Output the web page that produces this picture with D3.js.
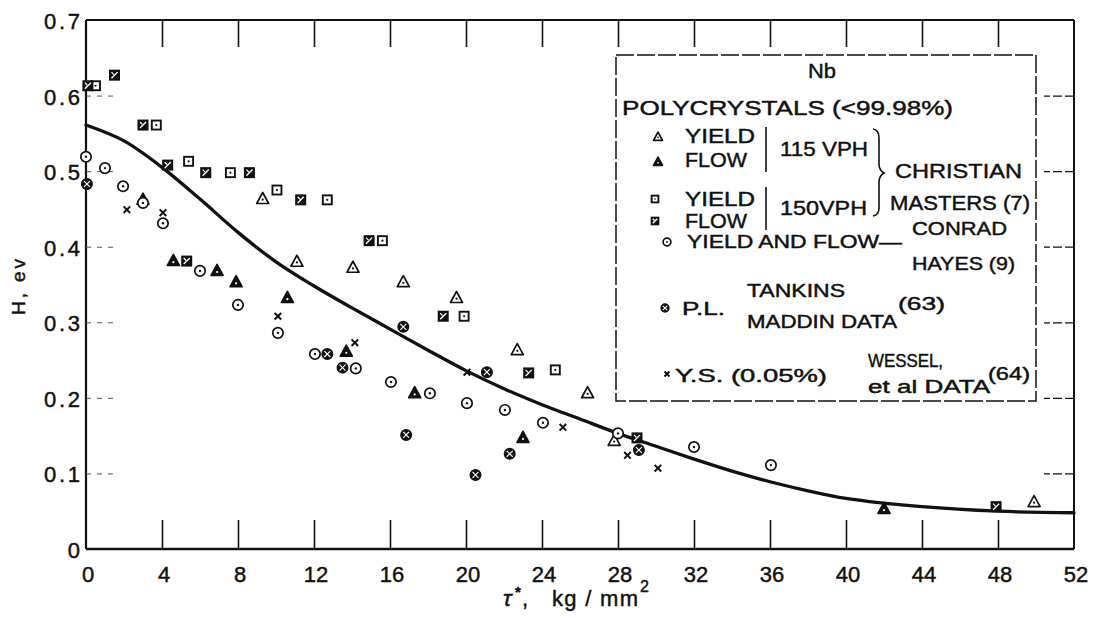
<!DOCTYPE html>
<html><head><meta charset="utf-8">
<script src="https://cdn.jsdelivr.net/npm/d3@7"></script>
<style>
html,body{margin:0;padding:0;background:#fff;}
svg text{font-family:"Liberation Sans",Arial,sans-serif;fill:#111;stroke:#111;stroke-width:0.45px;}
</style></head>
<body><svg id="c" width="1095" height="618"></svg>
<script>
// ---- data ----
const xTicks = [0,4,8,12,16,20,24,28,32,36,40,44,48,52];
const yTicks = [0,0.1,0.2,0.3,0.4,0.5,0.6,0.7];
const yTickLabels = ["0","0.1","0.2","0.3","0.4","0.5","0.6","0.7"];

const yield115 = [[9.3,0.463],[11.1,0.380],[14.05,0.372],[16.7,0.353],[19.5,0.332],[22.7,0.263],[26.4,0.206],[27.8,0.143],[49.9,0.062]];
const flow115 = [[3.0,0.462],[4.6,0.381],[6.9,0.368],[7.9,0.353],[10.6,0.332],[13.7,0.261],[17.3,0.206],[23.0,0.147],[42.0,0.053]];
const yield150 = [[0.5,0.613],[3.7,0.561],[5.4,0.513],[7.6,0.498],[10.05,0.475],[12.7,0.462],[15.6,0.408],[19.9,0.308],[24.7,0.237]];
const flow150 = [[0.1,0.613],[1.5,0.627],[3.0,0.561],[4.3,0.508],[6.3,0.498],[8.6,0.498],[11.3,0.462],[5.3,0.381],[14.9,0.408],[18.8,0.308],[23.3,0.233],[29.0,0.147],[47.9,0.056]];
const conradHayes = [[0,0.519],[1.0,0.504],[1.95,0.480],[3.0,0.458],[4.05,0.431],[6.0,0.368],[8.0,0.323],[10.1,0.286],[12.05,0.258],[14.2,0.239],[16.05,0.221],[18.1,0.206],[20.05,0.193],[22.05,0.184],[24.05,0.167],[28.0,0.153],[32.0,0.135],[36.05,0.111]];
const tankinsMaddin = [[0.05,0.483],[12.7,0.258],[13.5,0.240],[16.7,0.294],[16.85,0.151],[20.5,0.098],[21.1,0.234],[22.3,0.126],[29.1,0.131]];
const wessel = [[2.15,0.449],[4.05,0.445],[10.1,0.308],[14.15,0.273],[20.05,0.234],[25.1,0.161],[28.5,0.124],[30.1,0.107]];

const curveX = [0,2,4,6,8,10,12,14,16,18,20,22,24,26,28,30,32,34,36,38,40,44,48,52];
const curveY = [0.561,0.540,0.505,0.463,0.419,0.380,0.348,0.319,0.291,0.263,0.236,0.212,0.191,0.172,0.153,0.136,0.119,0.103,0.089,0.077,0.067,0.056,0.050,0.048];

// ---- layout ----
const svg = d3.select("#c");
const X0 = 86, X1 = 1074, Y0 = 549, Y1 = 20;
const x = d3.scaleLinear().domain([0,52]).range([X0,X1]);
const y = d3.scaleLinear().domain([0,0.7]).range([Y0,Y1]);
const ink = "#111";

// frame
const g = svg.append("g");
g.append("line").attr("x1",X0).attr("x2",X0).attr("y1",Y1).attr("y2",Y0).attr("stroke",ink).attr("stroke-width",2.2);
g.append("line").attr("x1",X0).attr("x2",X1).attr("y1",Y0).attr("y2",Y0).attr("stroke",ink).attr("stroke-width",2.6);
g.append("line").attr("x1",X0).attr("x2",X1).attr("y1",Y1).attr("y2",Y1).attr("stroke",ink).attr("stroke-width",1.8);
g.append("line").attr("x1",X1).attr("x2",X1).attr("y1",Y1).attr("y2",Y0).attr("stroke",ink).attr("stroke-width",2);

// inner ticks via d3 axes
const axB = d3.axisTop(x).tickValues(xTicks.slice(1,-1)).tickSize(29).tickFormat("");
const gb = svg.append("g").attr("transform",`translate(0,${Y0})`).call(axB);
gb.select(".domain").remove();
gb.selectAll(".tick line").attr("stroke",ink).attr("stroke-width",1.6);

const axT = d3.axisBottom(x).tickValues(xTicks.slice(1,-1)).tickSize(27).tickFormat("");
const gt = svg.append("g").attr("transform",`translate(0,${Y1})`).call(axT);
gt.select(".domain").remove();
gt.selectAll(".tick line").attr("stroke",ink).attr("stroke-width",1.6);

const axR = d3.axisLeft(y).tickValues(yTicks.slice(1,-1)).tickSize(30).tickFormat("");
const gr = svg.append("g").attr("transform",`translate(${X1},0)`).call(axR);
gr.select(".domain").remove();
gr.selectAll(".tick line").attr("stroke",ink).attr("stroke-width",1.3).attr("stroke-dasharray","9,3");

const axL = d3.axisRight(y).tickValues(yTicks.slice(1,-1)).tickSize(28).tickFormat("");
const gl = svg.append("g").attr("transform",`translate(${X0},0)`).call(axL);
gl.select(".domain").remove();
gl.selectAll(".tick line").attr("stroke","#555").attr("stroke-width",1).attr("stroke-dasharray","5,6");

// tick labels
svg.append("g").selectAll("text").data(xTicks).join("text")
  .attr("x",d=>x(d)+2).attr("y",582).attr("text-anchor","middle")
  .attr("font-size",22).text(d=>d);
svg.append("g").selectAll("text").data(yTicks).join("text")
  .attr("x",80).attr("y",d=>y(d)+9).attr("text-anchor","end")
  .attr("font-size",22)
  .each(function(d,i){ if(i>0){ d3.select(this).attr("textLength",36).attr("lengthAdjust","spacing"); } })
  .text((d,i)=>yTickLabels[i]);

// axis titles
svg.append("text").attr("transform","translate(25,287) rotate(-90)").attr("text-anchor","middle")
  .attr("font-size",19).attr("textLength",56).attr("lengthAdjust","spacing").text("H, ev");
const xt = svg.append("g");
xt.append("text").attr("x",503).attr("y",606).attr("font-size",23).attr("font-style","italic").text("τ");
xt.append("text").attr("x",515).attr("y",597).attr("font-size",15).attr("font-weight","bold").text("*");
xt.append("text").attr("x",522).attr("y",606).attr("font-size",22).text(",");
xt.append("text").attr("x",552).attr("y",606).attr("font-size",22).attr("textLength",86).attr("lengthAdjust","spacing").text("kg / mm");
xt.append("text").attr("x",640).attr("y",592).attr("font-size",16).text("2");

// curve
const curvePts = curveX.map((v,i)=>[v,curveY[i]]);
svg.append("path").datum(curvePts)
  .attr("d",d3.line().x(d=>x(d[0])).y(d=>y(d[1])).curve(d3.curveCatmullRom.alpha(0.5)))
  .attr("fill","none").attr("stroke",ink).attr("stroke-width",3.3).attr("stroke-linecap","round");

// marker drawing
function marker(sel, type, s){
  s = s||1;
  const sw = 1.7;
  if(type==="triOpen"||type==="triFill"){
    const h=11*s, w=12*s;
    sel.append("path").attr("d",`M0,${-h*0.6}L${w/2},${h*0.4}L${-w/2},${h*0.4}Z`)
      .attr("fill",type==="triFill"?ink:"#fff").attr("stroke",ink).attr("stroke-width",sw).attr("stroke-linejoin","round");
    if(type==="triOpen") sel.append("circle").attr("r",1.1*s).attr("cy",h*0.05).attr("fill",ink);
    else sel.append("circle").attr("r",1.1*s).attr("cy",h*0.1).attr("fill","#fff");
  } else if(type==="sqOpen"){
    const a=9*s;
    sel.append("rect").attr("x",-a/2).attr("y",-a/2).attr("width",a).attr("height",a)
      .attr("fill","#fff").attr("stroke",ink).attr("stroke-width",sw+0.2);
    sel.append("circle").attr("r",1.1*s).attr("fill",ink);
  } else if(type==="sqX"){
    const a=9.5*s;
    sel.append("rect").attr("x",-a/2).attr("y",-a/2).attr("width",a).attr("height",a)
      .attr("fill",ink).attr("stroke",ink).attr("stroke-width",1.5);
    const k=a*0.32;
    sel.append("path").attr("d",`M${-k},${k}L${k},${-k}`).attr("stroke","#fff").attr("stroke-width",1.4);
    sel.append("path").attr("d",`M${-k},${-k}L${-k*0.2},${-k*0.2}`).attr("stroke","#fff").attr("stroke-width",1.2);
  } else if(type==="circOpen"){
    sel.append("circle").attr("r",5.2*s).attr("fill","#fff").attr("stroke",ink).attr("stroke-width",sw);
    sel.append("circle").attr("r",1.2*s).attr("fill",ink);
  } else if(type==="circX"){
    const r=5.4*s;
    sel.append("circle").attr("r",r).attr("fill",ink).attr("stroke",ink).attr("stroke-width",1.2);
    const k=r*0.55;
    sel.append("path").attr("d",`M${-k},${-k}L${k},${k}M${k},${-k}L${-k},${k}`).attr("stroke","#fff").attr("stroke-width",1.1);
  } else if(type==="cross"){
    const k=3.3*s;
    sel.append("path").attr("d",`M${-k},${-k}L${k},${k}M${k},${-k}L${-k},${k}`).attr("stroke",ink).attr("stroke-width",2);
  }
}
const series = [
  {data:yield115,type:"triOpen"},
  {data:flow115,type:"triFill"},
  {data:yield150,type:"sqOpen"},
  {data:flow150,type:"sqX"},
  {data:conradHayes,type:"circOpen"},
  {data:tankinsMaddin,type:"circX"},
  {data:wessel,type:"cross"}
];
series.forEach(sr=>{
  svg.append("g").selectAll("g").data(sr.data).join("g")
    .attr("transform",d=>`translate(${x(d[0])},${y(d[1])})`)
    .each(function(){ marker(d3.select(this), sr.type, 1); });
});

// legend
const L = svg.append("g");
L.append("rect").attr("x",616).attr("y",55).attr("width",420).attr("height",346)
  .attr("fill","#fff").attr("stroke",ink).attr("stroke-width",1.5).attr("stroke-dasharray","18,3");
function T(str,x0,yb,len,fs,anchor){
  const t=L.append("text").attr("x",x0).attr("y",yb).attr("font-size",fs||22).text(str);
  if(anchor) t.attr("text-anchor",anchor);
  if(len) t.attr("textLength",len).attr("lengthAdjust","spacingAndGlyphs");
  return t;
}
T("Nb",822,78,28,21,"middle");
T("POLYCRYSTALS (<99.98%)",622,115,331,21);
T("YIELD",685,143,70,21);
T("FLOW",685,167,62,21);
T("115 VPH",780,156,88,21);
T("YIELD",685,206,70,21);
T("FLOW",685,228,62,21);
T("150VPH",780,215,87,21);
T("CHRISTIAN",895,178,127,21);
T("MASTERS (7)",890,210,140,21);
T("YIELD AND FLOW—",687,248,215,18);
T("CONRAD",912,235,95,18);
T("HAYES (9)",912,270,103,18);
T("P.L.",682,315,43,18);
T("TANKINS",747,297,98,18);
T("MADDIN DATA",747,328,150,18);
T("(63)",898,310,47,18);
T("Y.S. (0.05%)",675,382,152,18);
T("WESSEL,",868,367,75,18);
T("et al DATA",868,393,122,18);
T("(64)",988,380,42,18);

// brackets
L.append("path").attr("d","M766,127L766,172M766,187L766,230").attr("stroke",ink).attr("stroke-width",1.6).attr("fill","none");
L.append("path").attr("d","M873,129Q879,130 879,138L879,164Q879,170 884,173Q879,176 879,182L879,208Q879,215 873,216")
  .attr("stroke",ink).attr("stroke-width",1.6).attr("fill","none");

// legend markers
const lm = [[658,137,"triOpen"],[658,162,"triFill"],[655,199,"sqOpen"],[655,221,"sqX"],[667,242,"circOpen"],[665,308,"circX"],[667,374,"cross"]];
lm.forEach(m=>{ marker(L.append("g").attr("transform",`translate(${m[0]},${m[1]})`), m[2], 0.75); });
</script></body></html>
